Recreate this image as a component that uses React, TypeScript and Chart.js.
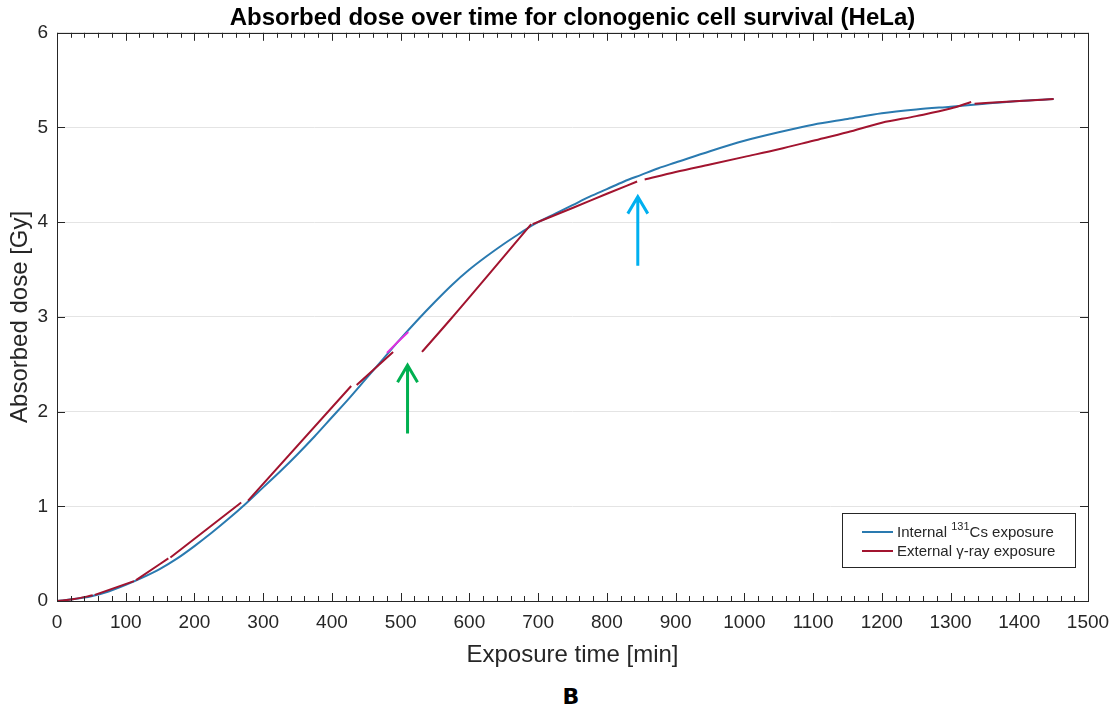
import React, { useEffect, useRef } from "react";
import { Chart, registerables } from "chart.js";

Chart.register(...registerables);

const TITLE = "Absorbed dose over time for clonogenic cell survival (HeLa)";
const X_LABEL = "Exposure time [min]";
const Y_LABEL = "Absorbed dose [Gy]";
const PANEL = "B";
const INTERNAL_LABEL = ["Internal ", "131", "Cs exposure"];
const EXTERNAL_LABEL = "External γ-ray exposure";

const internalTime = [0, 25, 50, 75, 100, 125, 150, 175, 200, 225, 250, 275, 300, 325, 350, 375, 400, 425, 450, 475, 500, 525, 550, 575, 600, 625, 650, 675, 690, 700, 725, 750, 775, 800, 825, 850, 875, 900, 950, 1000, 1050, 1100, 1150, 1200, 1250, 1300, 1350, 1400, 1450];
const internalDose = [0, 0.02, 0.05, 0.1, 0.17, 0.25, 0.34, 0.45, 0.58, 0.72, 0.87, 1.03, 1.2, 1.37, 1.55, 1.74, 1.94, 2.14, 2.35, 2.56, 2.77, 2.97, 3.16, 3.34, 3.5, 3.64, 3.77, 3.89, 3.96, 4.0, 4.09, 4.18, 4.27, 4.35, 4.43, 4.5, 4.57, 4.63, 4.75, 4.86, 4.95, 5.03, 5.09, 5.15, 5.19, 5.22, 5.25, 5.28, 5.3];

// null entries mark breaks between measurement segments
const externalTime = [0, 25, 52, null, 55, 112, null, 115, 162, null, 165, 268, null, 278, 428, null, 436, 489, null, 531, 572, 690, null, 692, 750, 800, 844, null, 855, 900, 950, 1000, 1050, 1100, 1150, 1200, 1250, 1300, 1330, null, 1335, 1400, 1450];
const externalDose = [0, 0.02, 0.06, null, 0.065, 0.21, null, 0.22, 0.45, null, 0.46, 1.04, null, 1.06, 2.27, null, 2.28, 2.63, null, 2.63, 2.97, 3.98, null, 3.98, 4.15, 4.3, 4.43, null, 4.45, 4.53, 4.61, 4.69, 4.77, 4.86, 4.95, 5.05, 5.12, 5.2, 5.27, null, 5.25, 5.28, 5.3];

const highlightTime = [480, 495, 511];
const highlightDose = [2.62, 2.73, 2.84];

const arrowTime = [510, 845];
const arrowFromDose = [1.77, 3.54];
const arrowToDose = [2.49, 4.27];
const arrowColors = ["#00B050", "#00B0F0"];

const X_MIN = 0, X_MAX = 1500, X_STEP = 100, X_MINOR = 20;
const Y_MIN = 0, Y_MAX = 6, Y_STEP = 1;

const BLUE = "#2a7ab0";
const RED = "#a2142f";
const MAGENTA = "#e030e0";
const AXIS = "#262626";
const FONT = "'Liberation Sans', Arial, sans-serif";

function buildPoints(xs: (number | null)[], ys: (number | null)[]) {
  const pts: { x: number; y: number | null }[] = [];
  let prev = 0;
  xs.forEach((x, i) => {
    if (x === null || ys[i] === null) {
      pts.push({ x: prev, y: null });
    } else {
      prev = x;
      pts.push({ x, y: ys[i] as number });
    }
  });
  return pts;
}

const frameAndTicks = {
  id: "frameAndTicks",
  afterDatasetsDraw(chart: any) {
    const { ctx, chartArea: a, scales } = chart;
    const xs = scales.x, ys = scales.y;
    ctx.save();
    ctx.strokeStyle = AXIS;
    ctx.lineWidth = 1;
    ctx.beginPath();
    for (let v = X_MIN; v <= X_MAX + 1e-9; v += X_MINOR) {
      const px = Math.round(xs.getPixelForValue(v)) + 0.5;
      const major = Math.abs(v / X_STEP - Math.round(v / X_STEP)) < 1e-6;
      const len = major ? 8 : 5;
      ctx.moveTo(px, a.bottom);
      ctx.lineTo(px, a.bottom - len);
      ctx.moveTo(px, a.top);
      ctx.lineTo(px, a.top + len);
    }
    for (let v = Y_MIN; v <= Y_MAX + 1e-9; v += Y_STEP) {
      const py = Math.round(ys.getPixelForValue(v)) + 0.5;
      ctx.moveTo(a.left, py);
      ctx.lineTo(a.left + 8, py);
      ctx.moveTo(a.right, py);
      ctx.lineTo(a.right - 8, py);
    }
    ctx.stroke();
    ctx.strokeRect(Math.round(a.left) + 0.5, Math.round(a.top) + 0.5, Math.round(a.right - a.left), Math.round(a.bottom - a.top));

    // arrows
    arrowTime.forEach((t, i) => {
      const px = xs.getPixelForValue(t);
      const y0 = ys.getPixelForValue(arrowFromDose[i]);
      const y1 = ys.getPixelForValue(arrowToDose[i]);
      ctx.strokeStyle = arrowColors[i];
      ctx.lineWidth = 3;
      ctx.lineCap = "butt";
      ctx.beginPath();
      ctx.moveTo(px, y0);
      ctx.lineTo(px, y1 + 1);
      ctx.moveTo(px - 10, y1 + 17);
      ctx.lineTo(px, y1);
      ctx.lineTo(px + 10, y1 + 17);
      ctx.stroke();
    });

    // legend
    const w = 233, h = 54;
    const lx = a.right - 13 - w, ly = a.bottom - 34 - h;
    ctx.fillStyle = "#ffffff";
    ctx.fillRect(lx, ly, w, h);
    ctx.strokeStyle = AXIS;
    ctx.lineWidth = 1;
    ctx.strokeRect(Math.round(lx) + 0.5, Math.round(ly) + 0.5, w, h);
    const rows = [ly + 19, ly + 38];
    const colors = [BLUE, RED];
    rows.forEach((ry, i) => {
      ctx.strokeStyle = colors[i];
      ctx.lineWidth = 2;
      ctx.beginPath();
      ctx.moveTo(lx + 20, ry);
      ctx.lineTo(lx + 51, ry);
      ctx.stroke();
    });
    ctx.fillStyle = AXIS;
    ctx.textBaseline = "middle";
    ctx.textAlign = "left";
    let tx = lx + 55;
    ctx.font = `15px ${FONT}`;
    ctx.fillText(INTERNAL_LABEL[0], tx, rows[0] + 1);
    tx += ctx.measureText(INTERNAL_LABEL[0]).width;
    ctx.font = `11px ${FONT}`;
    ctx.fillText(INTERNAL_LABEL[1], tx, rows[0] - 5);
    tx += ctx.measureText(INTERNAL_LABEL[1]).width;
    ctx.font = `15px ${FONT}`;
    ctx.fillText(INTERNAL_LABEL[2], tx, rows[0] + 1);
    ctx.fillText(EXTERNAL_LABEL, lx + 55, rows[1] + 1);
    ctx.restore();
  },
};

export default function App() {
  const ref = useRef<HTMLCanvasElement | null>(null);
  useEffect(() => {
    if (!ref.current) return;
    const chart = new Chart(ref.current, {
      type: "scatter",
      data: {
        datasets: [
          {
            label: "Internal",
            data: buildPoints(internalTime, internalDose),
            showLine: true,
            borderColor: BLUE,
            borderWidth: 2,
            pointRadius: 0,
            cubicInterpolationMode: "monotone",
            order: 2,
          },
          {
            label: "External",
            data: buildPoints(externalTime, externalDose),
            showLine: true,
            spanGaps: false,
            borderColor: RED,
            borderWidth: 2,
            pointRadius: 0,
            cubicInterpolationMode: "monotone",
            order: 0,
          },
          {
            label: "Highlight",
            data: buildPoints(highlightTime, highlightDose),
            showLine: true,
            borderColor: MAGENTA,
            borderWidth: 2,
            pointRadius: 0,
            order: 1,
          },
        ],
      },
      options: {
        responsive: false,
        animation: false,
        layout: { padding: { left: 0, right: 29, top: 0, bottom: 0 } },
        plugins: {
          legend: { display: false },
          tooltip: { enabled: false },
          title: {
            display: true,
            fullSize: false,
            text: TITLE,
            color: "#000000",
            font: { family: FONT, size: 24, weight: "bold" },
            padding: { top: 4, bottom: 0 },
          },
        },
        scales: {
          x: {
            type: "linear",
            min: X_MIN,
            max: X_MAX,
            ticks: {
              stepSize: X_STEP,
              color: AXIS,
              font: { family: FONT, size: 19 },
              padding: 10,
              maxRotation: 0,
              callback: (v: any) => String(v),
            },
            grid: { display: false, drawTicks: false },
            border: { display: false },
            title: {
              display: true,
              text: X_LABEL,
              color: AXIS,
              font: { family: FONT, size: 24 },
              padding: { top: 0, bottom: 10 },
            },
            afterFit: (s: any) => { s.height = 79; s.paddingLeft = 0; s.paddingRight = 0; },
          },
          y: {
            type: "linear",
            min: Y_MIN,
            max: Y_MAX,
            ticks: {
              stepSize: Y_STEP,
              color: AXIS,
              font: { family: FONT, size: 19 },
              padding: 9,
              callback: (v: any) => String(v),
            },
            grid: { color: "#e4e4e4", drawTicks: false },
            border: { display: false },
            title: {
              display: true,
              text: Y_LABEL,
              color: AXIS,
              font: { family: FONT, size: 24 },
              padding: { top: 6, bottom: 0 },
            },
            afterFit: (s: any) => { s.width = 57; s.paddingTop = 0; s.paddingBottom = 0; },
          },
        },
      },
      plugins: [frameAndTicks],
    } as any);
    return () => chart.destroy();
  }, []);

  return (
    <div style={{ position: "absolute", left: 0, top: 0, width: 1117, height: 709, background: "#ffffff" }}>
      <canvas ref={ref} width={1117} height={680} style={{ display: "block" }} />
      <div
        style={{
          position: "absolute",
          left: 0,
          width: 1142,
          top: 684,
          textAlign: "center",
          fontFamily: "'DejaVu Sans', Verdana, sans-serif",
          fontWeight: "bold",
          fontSize: 22,
          color: "#000000",
        }}
      >
        {PANEL}
      </div>
    </div>
  );
}
